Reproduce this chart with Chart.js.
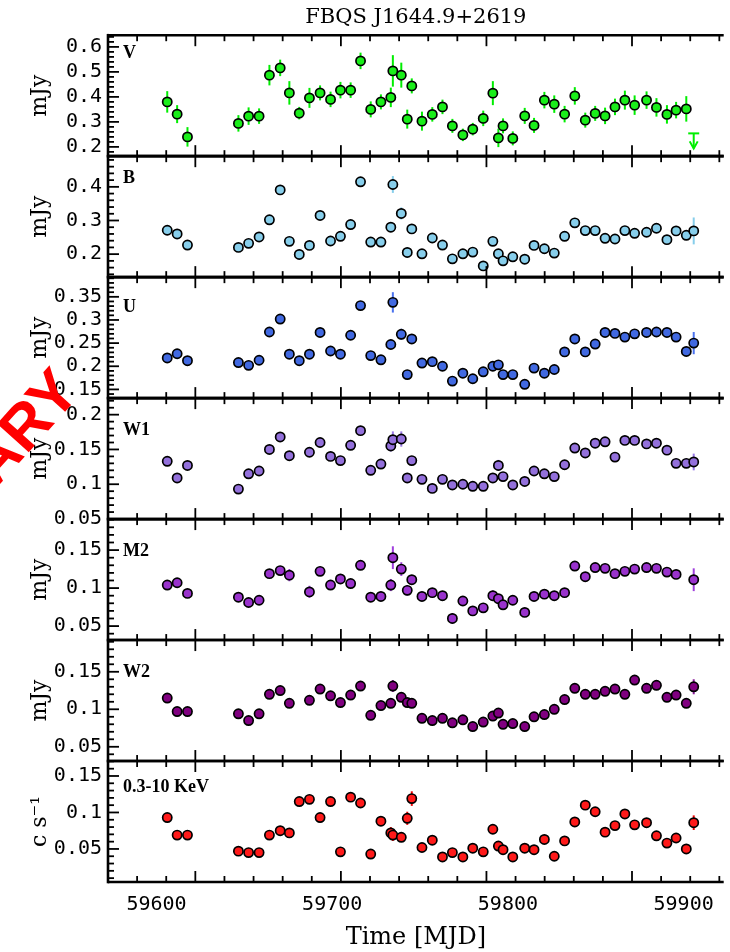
<!DOCTYPE html>
<html>
<head>
<meta charset="utf-8">
<script src="https://cdn.jsdelivr.net/npm/chart.js@4.4.1/dist/chart.umd.min.js"></script>
<style>
  body { margin: 0; background: #fff; }
  canvas { display: block; }
</style>
</head>
<body>
<canvas id="lc" width="730" height="952"></canvas>
<script>
// observation epochs (MJD), shared by all bands
const mjd = [59580.7, 59587.5, 59594.6, 59629.6, 59636.6, 59643.8, 59650.9, 59658.3, 59664.6, 59671.4,
  59678.4, 59685.7, 59692.9, 59699.7, 59706.7, 59713.5, 59720.5, 59727.5, 59734.3, 59735.7,
  59741.5, 59745.6, 59748.7, 59755.7, 59762.8, 59769.8, 59776.6, 59783.8, 59790.6, 59797.8,
  59804.4, 59808.2, 59811.4, 59818.1, 59826.3, 59832.7, 59839.8, 59846.6, 59853.7, 59860.7,
  59867.9, 59874.7, 59881.5, 59888.3, 59895.1, 59901.8, 59910.0, 59916.8, 59924.0, 59930.3,
  59937.3, 59942.4];

// UVOT V (mJy); last epoch is an upper limit
const fluxV = [0.380, 0.331, 0.240, 0.294, 0.323, 0.323, 0.487, 0.516, 0.416, 0.335,
  0.396, 0.416, 0.390, 0.427, 0.427, 0.544, 0.350, 0.380, 0.398, 0.504,
  0.487, 0.311, 0.444, 0.303, 0.330, 0.360, 0.284, 0.248, 0.271, 0.314,
  0.415, 0.236, 0.284, 0.234, 0.324, 0.286, 0.387, 0.371, 0.331, 0.404,
  0.307, 0.334, 0.324, 0.360, 0.387, 0.367, 0.387, 0.358, 0.330, 0.347,
  0.352, null];
const errV = [0.043, 0.036, 0.039, 0.033, 0.035, 0.031, 0.041, 0.033, 0.047, 0.025,
  0.040, 0.030, 0.031, 0.033, 0.031, 0.033, 0.032, 0.030, 0.039, 0.063,
  0.050, 0.038, 0.030, 0.038, 0.029, 0.029, 0.028, 0.025, 0.025, 0.031,
  0.048, 0.037, 0.030, 0.028, 0.032, 0.030, 0.033, 0.035, 0.033, 0.035,
  0.030, 0.030, 0.033, 0.033, 0.038, 0.039, 0.035, 0.037, 0.037, 0.033,
  0.051, null];
const ulMjdV = [59942.4];
const ulFluxV = [0.254];

const fluxB = [0.271, 0.260, 0.227, 0.220, 0.232, 0.251, 0.302, 0.391, 0.238, 0.199,
  0.226, 0.315, 0.239, 0.253, 0.288, 0.415, 0.236, 0.236, 0.280, 0.407,
  0.321, 0.205, 0.275, 0.201, 0.248, 0.227, 0.186, 0.201, 0.206, 0.165,
  0.238, 0.201, 0.180, 0.192, 0.185, 0.226, 0.216, 0.203, 0.253, 0.293,
  0.270, 0.270, 0.247, 0.245, 0.270, 0.262, 0.265, 0.277, 0.243, 0.269,
  0.256, 0.269];
const errB = [0.010, 0.010, 0.010, 0.010, 0.008, 0.008, 0.010, 0.010, 0.008, 0.008,
  0.008, 0.010, 0.008, 0.008, 0.008, 0.012, 0.008, 0.008, 0.010, 0.025,
  0.018, 0.015, 0.008, 0.008, 0.008, 0.008, 0.008, 0.008, 0.008, 0.008,
  0.012, 0.010, 0.008, 0.010, 0.008, 0.008, 0.010, 0.008, 0.008, 0.012,
  0.010, 0.008, 0.008, 0.010, 0.013, 0.012, 0.012, 0.012, 0.012, 0.008,
  0.012, 0.040];

const fluxU = [0.218, 0.227, 0.212, 0.208, 0.202, 0.213, 0.274, 0.302, 0.226, 0.212,
  0.226, 0.273, 0.233, 0.226, 0.267, 0.331, 0.223, 0.214, 0.247, 0.338,
  0.269, 0.182, 0.259, 0.207, 0.210, 0.200, 0.168, 0.185, 0.173, 0.188,
  0.200, 0.203, 0.182, 0.182, 0.161, 0.196, 0.185, 0.193, 0.231, 0.259,
  0.231, 0.248, 0.273, 0.271, 0.263, 0.270, 0.273, 0.274, 0.273, 0.263,
  0.232, 0.250];
const errU = [0.008, 0.008, 0.007, 0.008, 0.007, 0.007, 0.008, 0.007, 0.007, 0.007,
  0.007, 0.007, 0.007, 0.007, 0.007, 0.008, 0.007, 0.007, 0.010, 0.022,
  0.012, 0.010, 0.008, 0.007, 0.007, 0.007, 0.007, 0.007, 0.007, 0.007,
  0.007, 0.008, 0.007, 0.007, 0.007, 0.007, 0.007, 0.007, 0.007, 0.010,
  0.007, 0.007, 0.007, 0.008, 0.008, 0.008, 0.008, 0.008, 0.008, 0.008,
  0.007, 0.024];

const fluxW1 = [0.133, 0.109, 0.127, 0.093, 0.115, 0.119, 0.150, 0.168, 0.141, null,
  0.146, 0.160, 0.140, 0.134, 0.156, 0.177, 0.120, 0.129, 0.155, 0.164,
  0.165, 0.109, 0.134, 0.107, 0.094, 0.107, 0.099, 0.100, 0.097, 0.097,
  0.109, 0.127, 0.111, 0.099, 0.104, 0.119, 0.115, 0.111, 0.128, 0.152,
  0.145, 0.159, 0.161, 0.139, 0.163, 0.163, 0.158, 0.159, 0.149, 0.130,
  0.130, 0.132];
const errW1 = [0.004, 0.004, 0.004, 0.006, 0.004, 0.004, 0.004, 0.004, 0.004, null,
  0.004, 0.004, 0.004, 0.004, 0.004, 0.004, 0.004, 0.004, 0.008, 0.012,
  0.011, 0.006, 0.004, 0.004, 0.004, 0.004, 0.004, 0.004, 0.004, 0.004,
  0.004, 0.008, 0.004, 0.004, 0.004, 0.004, 0.004, 0.004, 0.004, 0.006,
  0.004, 0.004, 0.004, 0.004, 0.005, 0.005, 0.004, 0.004, 0.004, 0.004,
  0.004, 0.012];

const fluxM2 = [0.104, 0.107, 0.093, 0.088, 0.081, 0.084, 0.119, 0.123, 0.117, null,
  0.095, 0.122, 0.104, 0.112, 0.106, 0.130, 0.088, 0.089, 0.104, 0.140,
  0.125, 0.097, 0.111, 0.089, 0.094, 0.090, 0.060, 0.083, 0.070, 0.074,
  0.090, 0.086, 0.078, 0.084, 0.068, 0.089, 0.092, 0.090, 0.094, 0.129,
  0.115, 0.127, 0.126, 0.119, 0.122, 0.125, 0.127, 0.126, 0.121, 0.118,
  null, 0.111];
const errM2 = [0.005, 0.006, 0.004, 0.006, 0.004, 0.004, 0.005, 0.005, 0.008, null,
  0.008, 0.006, 0.004, 0.004, 0.004, 0.005, 0.004, 0.004, 0.008, 0.015,
  0.009, 0.007, 0.004, 0.004, 0.004, 0.005, 0.007, 0.004, 0.004, 0.004,
  0.007, 0.005, 0.004, 0.004, 0.004, 0.004, 0.004, 0.004, 0.004, 0.006,
  0.006, 0.004, 0.004, 0.004, 0.005, 0.004, 0.004, 0.004, 0.005, 0.004,
  null, 0.015];

const fluxW2 = [0.115, 0.097, 0.097, 0.094, 0.085, 0.094, 0.120, 0.125, 0.108, null,
  0.112, 0.127, 0.118, 0.109, 0.119, 0.131, 0.092, 0.105, 0.108, 0.131,
  0.116, 0.109, 0.108, 0.088, 0.085, 0.088, 0.082, 0.086, 0.077, 0.083,
  0.091, 0.095, 0.080, 0.081, 0.077, 0.090, 0.093, 0.100, 0.113, 0.128,
  0.120, 0.120, 0.124, 0.127, 0.120, 0.139, 0.128, 0.132, 0.116, 0.119,
  0.108, 0.130];
const errW2 = [0.003, 0.003, 0.003, 0.003, 0.003, 0.003, 0.003, 0.003, 0.003, null,
  0.003, 0.003, 0.003, 0.003, 0.003, 0.003, 0.003, 0.003, 0.003, 0.008,
  0.003, 0.003, 0.003, 0.003, 0.003, 0.003, 0.003, 0.003, 0.003, 0.003,
  0.003, 0.003, 0.003, 0.003, 0.003, 0.003, 0.003, 0.003, 0.003, 0.003,
  0.003, 0.003, 0.003, 0.003, 0.003, 0.003, 0.003, 0.003, 0.003, 0.003,
  0.003, 0.010];

// XRT 0.3-10 keV count rate (c/s)
const rateX = [0.093, 0.069, 0.069, 0.047, 0.045, 0.045, 0.069, 0.075, 0.072, 0.115,
  0.118, 0.093, 0.115, 0.046, 0.121, 0.113, 0.043, 0.088, 0.072, 0.069,
  0.066, 0.092, 0.119, 0.052, 0.062, 0.039, 0.045, 0.039, 0.051, 0.046,
  0.077, 0.054, 0.049, 0.039, 0.051, 0.049, 0.063, 0.040, 0.061, 0.087,
  0.110, 0.101, 0.073, 0.082, 0.098, 0.083, 0.086, 0.068, 0.058, 0.065,
  0.050, 0.086];
const errX = [0.005, 0.005, 0.005, 0.004, 0.004, 0.004, 0.005, 0.005, 0.005, 0.005,
  0.005, 0.005, 0.006, 0.004, 0.005, 0.005, 0.004, 0.005, 0.008, 0.008,
  0.005, 0.009, 0.010, 0.004, 0.004, 0.004, 0.004, 0.004, 0.004, 0.004,
  0.005, 0.004, 0.004, 0.004, 0.004, 0.004, 0.004, 0.004, 0.004, 0.004,
  0.005, 0.005, 0.005, 0.005, 0.005, 0.005, 0.005, 0.005, 0.005, 0.004,
  0.004, 0.010];

// time axis: tick marks (major 100, minor 20) follow the data scale;
// the printed labels sit where the original figure prints them
const xTicks = { min: 59540, max: 59963, major: 100, minor: 20 };
const xLabels = { min: 59572.4, max: 59922.8, step: 100 };

// panels listed from bottom to top (stacked axes are placed in reverse order)
const panels = [
  { id: 'yX', label: '0.3-10 KeV', title: 'c s\u207B\u00B9', flux: rateX, err: errX, min: 0.0047, max: 0.1705, step: 0.05, minor: 0.01, fill: '#ff1a1a', bar: '#ee0000', lx: 15, ly: 31 },
  { id: 'yW2', label: 'W2', title: 'mJy', flux: fluxW2, err: errW2, min: 0.031, max: 0.1923, step: 0.05, minor: 0.01, fill: '#800080', bar: '#8a1a9a', lx: 15, ly: 37 },
  { id: 'yM2', label: 'M2', title: 'mJy', flux: fluxM2, err: errM2, min: 0.0316, max: 0.1908, step: 0.05, minor: 0.01, fill: '#9932cc', bar: '#a040dd', lx: 15, ly: 37 },
  { id: 'yW1', label: 'W1', title: 'mJy', flux: fluxW1, err: errW1, min: 0.0499, max: 0.2238, step: 0.05, minor: 0.01, fill: '#9370db', bar: '#9a7ae8', lx: 15, ly: 37 },
  { id: 'yU', label: 'U', title: 'mJy', flux: fluxU, err: errU, min: 0.1312, max: 0.3925, step: 0.05, minor: 0.01, fill: '#4169e1', bar: '#4a72ee', lx: 15, ly: 35 },
  { id: 'yB', label: 'B', title: 'mJy', flux: fluxB, err: errB, min: 0.1316, max: 0.4912, step: 0.1, minor: 0.02, fill: '#87ceeb', bar: '#87ceeb', lx: 15, ly: 27 },
  { id: 'yV', label: 'V', title: 'mJy', flux: fluxV, err: errV, min: 0.1628, max: 0.6468, step: 0.1, minor: 0.02, fill: '#1aee1a', bar: '#00ee00', lx: 15, ly: 23 }
];

const tickFont = { family: 'DejaVu Sans Mono', size: 20 };
const labelFont = { family: 'DejaVu Serif', size: 22 };

function points(flux, err) {
  const out = [];
  mjd.forEach((t, i) => {
    if (flux[i] != null) out.push({ x: t, y: flux[i], e: err[i] });
  });
  return out;
}

const scales = {
  x: {
    type: 'linear', position: 'bottom', display: false,
    min: xTicks.min, max: xTicks.max
  },
  xl: {
    type: 'linear', position: 'bottom',
    min: xLabels.min, max: xLabels.max,
    grid: { display: false, drawTicks: false },
    border: { display: false },
    ticks: {
      stepSize: xLabels.step, autoSkip: false, maxRotation: 0, includeBounds: false,
      color: '#000', font: tickFont, padding: 11,
      callback: v => String(v)
    },
    title: { display: true, text: 'Time [MJD]', color: '#000', font: { family: 'DejaVu Serif', size: 24 }, padding: { top: 0, bottom: 0 } },
    afterFit: s => { s.height = 70; s.paddingLeft = 0; s.paddingRight = 0; }
  }
};
panels.forEach(p => {
  scales[p.id] = {
    type: 'linear', position: 'left', stack: 'lc', stackWeight: 1,
    min: p.min, max: p.max,
    grid: { display: false, drawTicks: false },
    border: { display: false },
    ticks: {
      stepSize: p.step, includeBounds: false, autoSkip: false, color: '#000', font: tickFont, padding: 6,
      callback: v => String(Math.round(v * 1000) / 1000)
    },
    title: { display: true, text: p.title, color: '#000', font: labelFont, padding: { top: 27, bottom: 0 } },
    afterFit: s => { s.width = 108; s.paddingTop = 0; s.paddingBottom = 0; }
  };
});

const datasets = panels.map(p => ({
  label: p.label,
  data: points(p.flux, p.err),
  xAxisID: 'x', yAxisID: p.id,
  showLine: false,
  pointRadius: 4.6,
  pointBorderWidth: 1.7,
  pointBorderColor: '#000',
  pointBackgroundColor: p.fill,
  barColor: p.bar
}));

function line(ctx, x1, y1, x2, y2) {
  ctx.beginPath();
  ctx.moveTo(x1, y1);
  ctx.lineTo(x2, y2);
  ctx.stroke();
}

const decor = {
  id: 'decor',
  beforeDatasetsDraw(chart) {
    // error bars under the markers
    const ctx = chart.ctx;
    ctx.save();
    ctx.lineWidth = 2;
    chart.data.datasets.forEach((ds, di) => {
      const meta = chart.getDatasetMeta(di);
      const ys = chart.scales[ds.yAxisID];
      ctx.strokeStyle = ds.barColor;
      meta.data.forEach((pt, i) => {
        const d = ds.data[i];
        if (!d.e) return;
        line(ctx, pt.x, ys.getPixelForValue(d.y - d.e), pt.x, ys.getPixelForValue(d.y + d.e));
      });
    });
    ctx.restore();
  },
  afterDatasetsDraw(chart) {
    const ctx = chart.ctx;
    const xs = chart.scales.x;
    const left = chart.chartArea.left, right = chart.chartArea.right;
    ctx.save();

    // V upper limit
    const yv = chart.scales.yV;
    ctx.strokeStyle = '#00ee00';
    ctx.lineWidth = 2;
    ulMjdV.forEach((t, i) => {
      const px = xs.getPixelForValue(t), py = yv.getPixelForValue(ulFluxV[i]);
      line(ctx, px - 5.5, py, px + 5.5, py);
      line(ctx, px, py, px, py + 15);
      ctx.beginPath();
      ctx.moveTo(px - 4, py + 8);
      ctx.lineTo(px, py + 15);
      ctx.lineTo(px + 4, py + 8);
      ctx.stroke();
    });

    ctx.strokeStyle = '#000';
    ctx.fillStyle = '#000';
    panels.forEach(p => {
      const s = chart.scales[p.id];
      const top = s.top, bot = s.bottom;
      // x ticks on top and bottom of every panel
      ctx.lineWidth = 1.8;
      for (let k = Math.ceil(xTicks.min / xTicks.minor); k * xTicks.minor <= xTicks.max; k++) {
        const v = k * xTicks.minor;
        const px = xs.getPixelForValue(v);
        const len = v % xTicks.major === 0 ? 11 : 6;
        line(ctx, px, top, px, top + len);
        line(ctx, px, bot, px, bot - len);
      }
      // y ticks on the left
      const ratio = Math.round(p.step / p.minor);
      for (let k = Math.ceil(p.min / p.minor - 1e-6); k * p.minor <= p.max + 1e-9; k++) {
        const py = s.getPixelForValue(k * p.minor);
        const len = k % ratio === 0 ? 11 : 6;
        line(ctx, left, py, left + len, py);
      }
      // frame
      ctx.lineWidth = 2.6;
      line(ctx, left, top, right, top);
      line(ctx, left, bot, right, bot);
      line(ctx, left, top - 1.3, left, bot + 1.3);
      // band label
      ctx.font = 'bold 18px "Liberation Serif"';
      ctx.textAlign = 'left';
      ctx.textBaseline = 'alphabetic';
      ctx.fillText(p.label, left + p.lx, top + p.ly);
    });

    // watermark
    ctx.translate(82, 393);
    ctx.rotate(-48 * Math.PI / 180);
    ctx.font = 'bold 62px "Liberation Sans"';
    ctx.fillStyle = '#ff0000';
    ctx.textAlign = 'right';
    ctx.textBaseline = 'alphabetic';
    ctx.fillText('PRELIMINARY', 0, 0);
    ctx.restore();
  }
};

new Chart(document.getElementById('lc').getContext('2d'), {
  type: 'scatter',
  data: { datasets: datasets },
  options: {
    responsive: false,
    animation: false,
    events: [],
    layout: { padding: { top: 0, right: 0, bottom: 0, left: 0 } },
    scales: scales,
    plugins: {
      legend: { display: false },
      tooltip: { enabled: false },
      title: {
        display: true, fullSize: false, text: 'FBQS J1644.9+2619', color: '#000',
        font: { family: 'DejaVu Serif', size: 21, weight: 'normal' },
        padding: { top: 5, bottom: 5 }
      }
    }
  },
  plugins: [decor]
});
</script>
</body>
</html>
